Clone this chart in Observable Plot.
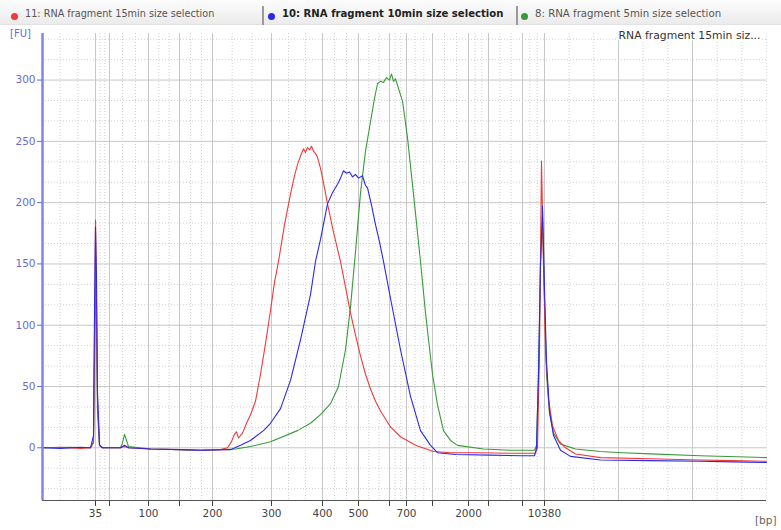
<!DOCTYPE html>
<html>
<head>
<meta charset="utf-8">
<script src="https://cdn.jsdelivr.net/npm/d3@7"></script>
<script src="https://cdn.jsdelivr.net/npm/@observablehq/plot@0.6"></script>
<style>
  body { margin: 0; background: #ffffff; font-family: "DejaVu Sans", sans-serif; }
  #wrap { position: relative; width: 781px; height: 530px; background: #fff; overflow: hidden; }
  #legend { position: relative; width: 781px; height: 25px; background: linear-gradient(to bottom, #fdfdfd, #ebebeb); box-sizing: border-box; border-bottom: 1px solid #e2e2e2; font-size: 9.7px; color: #555; }
  .item { position: absolute; top: 0; height: 25px; line-height: 27px; white-space: nowrap; }
  .dot { position: absolute; width: 7px; height: 7px; border-radius: 50%; top: 13px; }
  .sep { position: absolute; top: 6px; width: 2px; height: 19px; background: #9a9a9a; }
  svg { display: block; }
</style>
</head>
<body>
<div id="wrap">
  <div id="legend"></div>
  <div id="chart"></div>
</div>
<script>
// ---- series names / colours ----
const seriesNames = ["11: RNA fragment 15min size selection", "10: RNA fragment 10min size selection", "8: RNA fragment 5min size selection"];
const seriesColors = ["#f03a3a", "#2a2ae6", "#3a9a3a"];
const chartTitle = "RNA fragment 15min siz...";

// ---- ladder (x axis): bp sizes and their migration times (s) ----
const ladderBp = [35, 50, 100, 150, 200, 300, 400, 500, 600, 700, 1000, 2000, 3000, 7000, 10380];
const ladderTime = [22.3, 23.7, 27.6, 30.7, 34.0, 39.9, 45.0, 48.6, 51.7, 53.4, 56.0, 59.6, 61.6, 65.0, 67.2];
const labeledBp = [35, 100, 200, 300, 400, 500, 700, 2000, 10380];
const extraGridTime = [74.6, 82.0];
const yTicks = [0, 50, 100, 150, 200, 250, 300];

// ---- fluorescence traces: [migration time (s), FU] ----
const red15 = [
  [17.0,0],[18.8,0.5],[20.8,-0.5],[21.8,0],[22.1,5],[22.2,90],[22.3,186],[22.4,120],[22.5,40],[22.7,2],[23.0,0],
  [24.8,0],[25.2,1],[25.6,0],[27.8,-1],[30.8,-1.5],[32.8,-2],[34.8,-1.5],[35.5,0],[35.9,5],[36.2,11],[36.4,13],
  [36.6,8],[37.0,12],[37.4,20],[37.8,27],[38.3,38],[38.8,60],[39.3,85],[39.8,112],[40.2,135],[40.6,152],[41.2,182],
  [41.8,207],[42.2,222],[42.5,231],[42.8,238],[43.1,244],[43.3,241],[43.5,245],[43.7,243],[43.9,246],[44.1,242],
  [44.3,240],[44.5,237],[44.8,228],[45.2,212],[45.5,199],[46.1,176],[46.8,152],[47.3,131],[47.8,110],[48.3,92],
  [48.8,75],[49.3,60],[49.8,48],[50.3,38],[50.8,30],[51.8,17],[52.8,9],[54.3,2],[56.1,-3],[57.8,-4],[60.8,-4],
  [63.8,-4.5],[66.3,-4.5],[66.5,0],[66.7,80],[66.9,234],[67.1,150],[67.3,80],[67.6,40],[68.0,18],[68.6,6],
  [69.3,0],[70.3,-5],[72.8,-8],[77.8,-9],[82.8,-10],[86.0,-10.5],[89.4,-11]
];
const blue10 = [
  [17.0,0],[18.8,-0.5],[20.8,0.5],[21.8,0],[22.1,10],[22.2,110],[22.3,180],[22.4,140],[22.5,45],[22.7,2],[23.0,0],
  [24.8,0],[25.2,2],[25.6,0],[27.8,-1],[30.8,-1.5],[32.8,-2],[35.8,-1.5],[36.8,2],[37.8,6],[39.1,14],[39.8,20],
  [40.8,32],[41.8,55],[42.8,88],[43.8,125],[44.3,152],[44.8,170],[45.5,199],[46.0,208],[46.5,215],[46.8,220],
  [47.1,226],[47.4,224],[47.7,225],[48.0,221],[48.3,223],[48.6,220],[49.0,222],[49.3,214],[49.5,212],[49.9,198],
  [50.3,182],[50.7,168],[51.1,152],[51.8,122],[52.8,80],[53.8,42],[54.8,14],[55.8,2],[56.5,-4],[58.3,-5.5],
  [61.8,-6],[64.8,-6.5],[66.2,-6.5],[66.4,0],[66.6,60],[66.8,150],[67.0,197],[67.2,130],[67.4,70],[67.7,30],
  [68.1,10],[68.8,-2],[69.8,-7],[72.8,-10],[77.8,-10.5],[82.8,-11],[86.0,-11.5],[89.4,-12]
];
const green5 = [
  [17.0,0],[19.8,0.5],[21.8,0],[22.1,4],[22.2,70],[22.3,140],[22.4,95],[22.5,30],[22.7,2],[23.0,0],
  [24.8,0],[25.0,4],[25.2,11],[25.4,6],[25.6,1],[27.8,-1],[32.8,-2],[36.3,-1],[37.8,1],[39.8,5],[42.5,14],
  [43.8,20],[44.8,27],[45.8,36],[46.6,50],[47.3,80],[47.8,115],[48.3,160],[48.8,208],[49.3,242],[49.8,266],
  [50.2,285],[50.5,297],[50.8,299],[51.1,298],[51.4,302],[51.7,300],[51.9,305],[52.1,299],[52.3,301],[52.5,296],
  [52.8,288],[53.0,283],[53.5,253],[54.1,207],[54.8,152],[55.3,110],[56.0,60],[56.5,35],[57.1,14],[57.8,6],
  [58.5,2],[61.1,-1],[63.8,-2],[66.2,-2],[66.4,2],[66.6,60],[66.8,150],[67.0,185],[67.2,120],[67.4,60],
  [67.7,28],[68.1,12],[68.8,3],[70.3,-1],[72.8,-3],[75.0,-4],[77.8,-5],[82.8,-6.5],[89.4,-8]
];

const xDomain = [17, 89.4];
const yDomain = [-43, 338];

// ---- legend ----
const legend = document.getElementById("legend");
const legendX = [11, 268, 521];
const sepX = [262, 516];
seriesNames.forEach((name, i) => {
  const dot = document.createElement("div");
  dot.className = "dot";
  dot.style.left = legendX[i] + "px";
  dot.style.background = seriesColors[i];
  legend.appendChild(dot);
  const it = document.createElement("div");
  it.className = "item";
  it.style.left = (legendX[i] + 14) + "px";
  it.textContent = name;
  if (i === 1) { it.style.fontWeight = "bold"; it.style.color = "#222"; it.style.fontSize = "10.1px"; }
  if (i === 2) { it.style.fontSize = "10.2px"; }
  legend.appendChild(it);
});
sepX.forEach(x => {
  const s = document.createElement("div");
  s.className = "sep";
  s.style.left = x + "px";
  legend.appendChild(s);
});

// ---- grid helpers ----
const minorX = [];
const allT = [xDomain[0]].concat(ladderTime);
for (let i = 0; i < allT.length - 1; i++) {
  const a = allT[i], b = allT[i + 1];
  minorX.push(a + (b - a) / 3, a + 2 * (b - a) / 3);
}
const farT = [ladderTime[ladderTime.length - 1]].concat(extraGridTime, [xDomain[1]]);
for (let i = 0; i < farT.length - 1; i++) {
  const a = farT[i], b = farT[i + 1];
  minorX.push(a + (b - a) / 3, a + 2 * (b - a) / 3);
}
const minorY = d3.range(-2, 21).filter(k => k % 3 !== 0).map(k => k * 50 / 3);
const labelMap = new Map(ladderTime.map((t, i) => [t, labeledBp.includes(ladderBp[i]) ? String(ladderBp[i]) : ""]));

const toRows = (arr, s) => arr.map(([t, v]) => ({t, v, s}));

const chart = Plot.plot({
  width: 781,
  height: 505,
  marginTop: 8,
  marginBottom: 30,
  marginLeft: 42,
  marginRight: 15,
  x: {domain: xDomain},
  y: {domain: yDomain},
  style: {fontFamily: "DejaVu Sans, sans-serif", background: "#ffffff", overflow: "visible"},
  marks: [
    Plot.ruleY(minorY, {stroke: "#d0d0d0", strokeDasharray: "1,2"}),
    Plot.ruleX(minorX, {stroke: "#d0d0d0", strokeDasharray: "1,2"}),
    Plot.ruleY(yTicks, {stroke: "#c8c8c8"}),
    Plot.ruleX(ladderTime.concat(extraGridTime), {stroke: "#c8c8c8"}),
    Plot.ruleX([xDomain[1]], {stroke: "#dcdcdc", strokeDasharray: "1,2"}),
    Plot.text([chartTitle], {frameAnchor: "top-right", dx: -6, dy: 2, lineAnchor: "middle", textAnchor: "end", fontSize: 10.8, fill: "#333", stroke: "#fff", strokeWidth: 3}),
    Plot.line(toRows(green5, 2), {x: "t", y: "v", stroke: seriesColors[2], strokeWidth: 1.1}),
    Plot.line(toRows(red15, 0), {x: "t", y: "v", stroke: seriesColors[0], strokeWidth: 1.1}),
    Plot.line(toRows(blue10, 1), {x: "t", y: "v", stroke: seriesColors[1], strokeWidth: 1.1}),
    Plot.ruleX([xDomain[0]], {stroke: "#8383ef", strokeWidth: 2.5}),
    Plot.ruleY([yDomain[0]], {stroke: "#555", strokeWidth: 1.2}),
    Plot.axisY({ticks: yTicks, tickSize: 5, tickPadding: 2, color: "#6a6ad6", fontSize: 10.5, label: null}),
    Plot.axisX({ticks: ladderTime, tickSize: 6, tickPadding: 3, tickFormat: d => labelMap.get(d), color: "#444", fontSize: 10.5, label: null}),
    Plot.text(["[FU]"], {frameAnchor: "top-left", dx: -22, dy: 0, lineAnchor: "middle", textAnchor: "middle", fontSize: 10, fill: "#6a6ad6"}),
    Plot.text(["[bp]"], {frameAnchor: "bottom-right", dx: 10, dy: 20, lineAnchor: "middle", textAnchor: "end", fontSize: 10.5, fill: "#666"})
  ]
});
document.getElementById("chart").appendChild(chart);
</script>
</body>
</html>
